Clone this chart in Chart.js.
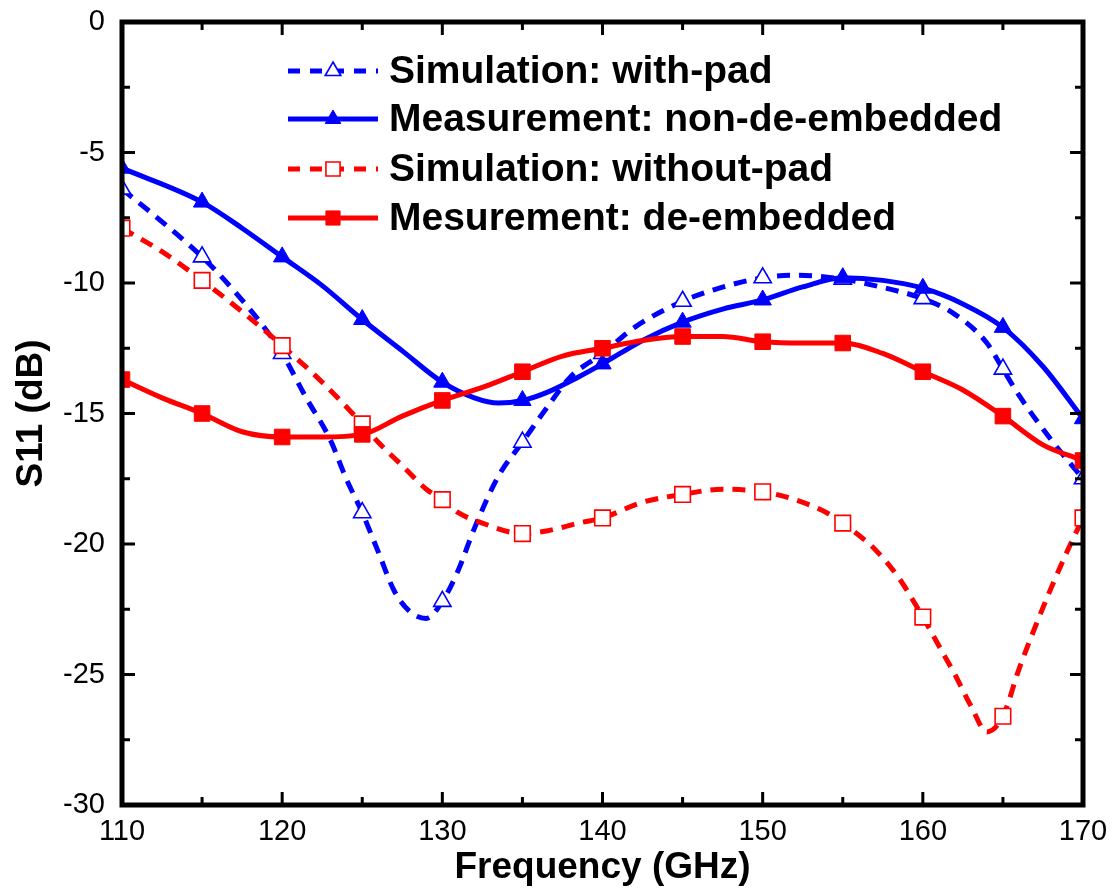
<!DOCTYPE html>
<html>
<head>
<meta charset="utf-8">
<script src="https://cdn.jsdelivr.net/npm/chart.js@4/dist/chart.umd.min.js"></script>
<style>
  html, body { margin: 0; padding: 0; background: #fff; }
  #wrap { width: 1116px; height: 892px; }
</style>
</head>
<body>
<div id="wrap"><canvas id="c" width="1116" height="892"></canvas></div>
<script>
// values (GHz / dB); markers sit on the 5 GHz points
const simPadFreq = [110, 112, 115, 117, 119, 120, 121.5, 123, 124, 125, 126, 127, 128, 129, 130, 131, 132, 133.5, 135, 136.5, 138, 140, 142, 145, 147, 150, 152, 155, 157, 160, 162, 164, 165, 166, 168, 170]
const simPadS11 = [-6.4, -7.4, -9.0, -10.3, -11.8, -12.7, -14.4, -16.0, -17.5, -18.8, -20.3, -21.8, -22.6, -22.85, -22.2, -21.0, -19.4, -17.4, -16.1, -14.8, -13.6, -12.7, -11.7, -10.7, -10.25, -9.8, -9.7, -9.85, -10.1, -10.6, -11.2, -12.3, -13.3, -14.3, -16.0, -17.5]

const measRawFreq = [110, 115, 117.5, 120, 122.5, 125, 127.5, 130, 132, 133.5, 135, 136.5, 138.5, 140, 142.5, 145, 147.5, 150, 152.5, 155, 157.5, 160, 162.5, 165, 167.5, 170]
const measRawS11 = [-5.6, -6.9, -7.9, -9.0, -10.1, -11.4, -12.6, -13.8, -14.4, -14.6, -14.5, -14.2, -13.6, -13.1, -12.2, -11.5, -11.0, -10.65, -10.15, -9.8, -9.9, -10.2, -10.8, -11.7, -13.2, -15.2]

const simNoPadFreq = [110, 112.5, 115, 117.5, 120, 122.5, 125, 126, 127.5, 129, 130, 131, 132.5, 135, 136.5, 138.5, 140, 142.5, 145, 147.5, 150, 152, 154, 155, 157, 158.5, 160, 161, 162, 163, 164, 165, 166, 167, 168, 169, 170]
const simNoPadS11 = [-7.9, -8.8, -9.9, -11.1, -12.4, -13.8, -15.4, -16.1, -17.0, -17.9, -18.3, -18.8, -19.2, -19.6, -19.5, -19.2, -19.0, -18.4, -18.1, -17.9, -18.0, -18.3, -18.8, -19.2, -20.2, -21.3, -22.8, -23.9, -25.0, -26.2, -27.2, -26.6, -24.8, -23.2, -21.7, -20.3, -19.0]

const measDeFreq = [110, 112.5, 115, 117.5, 120, 122.5, 125, 127.5, 130, 132.5, 135, 137.5, 140, 142.5, 145, 147.5, 150, 152.5, 155, 157.5, 160, 162.5, 165, 167.5, 170]
const measDeS11 = [-13.7, -14.4, -15.0, -15.7, -15.9, -15.9, -15.8, -15.1, -14.5, -14.0, -13.4, -12.8, -12.5, -12.2, -12.05, -12.05, -12.25, -12.3, -12.3, -12.7, -13.4, -14.1, -15.1, -16.2, -16.8]

const seriesNames = ['Simulation: with-pad', 'Measurement: non-de-embedded', 'Simulation: without-pad', 'Mesurement: de-embedded']

const xTicks = [110, 120, 130, 140, 150, 160, 170]
const yTicks = [-30, -25, -20, -15, -10, -5, 0]

const BLUE = '#0000ff'
const RED = '#ff0000'

function pts(fs, vs) {
  return fs.map((f, i) => ({ x: f, y: vs[i] }))
}

// only draw a marker on the 5 GHz points
const markerR = r => ctx => (ctx.raw && ctx.raw.x % 5 === 0 ? r : 0)

const styles = [
  { color: BLUE, dash: [13, 9], pointStyle: 'triangle', fill: '#fff', r: 10 },
  { color: BLUE, dash: [], pointStyle: 'triangle', fill: BLUE, r: 10 },
  { color: RED, dash: [13, 9], pointStyle: 'rect', fill: '#fff', r: 11 },
  { color: RED, dash: [], pointStyle: 'rect', fill: RED, r: 11 }
]

const allData = [
  pts(simPadFreq, simPadS11),
  pts(measRawFreq, measRawS11),
  pts(simNoPadFreq, simNoPadS11),
  pts(measDeFreq, measDeS11)
]

const datasets = allData.map((d, i) => {
  const s = styles[i]
  return {
    label: seriesNames[i],
    data: d,
    borderColor: s.color,
    borderWidth: 5,
    borderDash: s.dash,
    cubicInterpolationMode: 'monotone',
    pointStyle: s.pointStyle,
    pointRadius: markerR(s.r),
    pointHoverRadius: 0,
    pointBackgroundColor: s.fill,
    pointBorderColor: s.color,
    pointBorderWidth: s.fill === '#fff' ? 1.6 : 1,
    clip: 2
  }
}).reverse() // red solid drawn first, blue dashed on top

const tickFont = { family: "'Liberation Sans', Arial, sans-serif", size: 29 }
const titleFont = { family: "'Liberation Sans', Arial, sans-serif", size: 37, weight: 'bold', lineHeight: 1 }

// frame + inward ticks on all four sides
const framePlugin = {
  id: 'frame',
  afterDatasetsDraw(chart) {
    const { ctx, chartArea: a, scales: { x, y } } = chart
    ctx.save()
    ctx.strokeStyle = '#000'
    ctx.lineWidth = 3
    ctx.beginPath()
    for (let v = 110; v <= 170; v += 5) {
      const px = x.getPixelForValue(v)
      const len = v % 10 === 0 ? 13 : 8
      ctx.moveTo(px, a.bottom); ctx.lineTo(px, a.bottom - len)
      ctx.moveTo(px, a.top); ctx.lineTo(px, a.top + len)
    }
    for (let v = -30; v <= 0; v += 2.5) {
      const py = y.getPixelForValue(v)
      const len = v % 5 === 0 ? 13 : 8
      ctx.moveTo(a.left, py); ctx.lineTo(a.left + len, py)
      ctx.moveTo(a.right, py); ctx.lineTo(a.right - len, py)
    }
    ctx.stroke()
    ctx.lineWidth = 5
    ctx.strokeRect(a.left, a.top, a.right - a.left, a.bottom - a.top)
    ctx.restore()
  }
}

// legend drawn as line + marker + bold text, like the original
const legendPlugin = {
  id: 'lineLegend',
  afterDraw(chart) {
    const ctx = chart.ctx
    const rowsY = [71, 119, 169, 218]
    ctx.save()
    styles.forEach((s, i) => {
      const yy = rowsY[i]
      ctx.strokeStyle = s.color
      ctx.lineWidth = 5
      ctx.setLineDash(s.dash.length ? [12, 10] : [])
      ctx.beginPath()
      ctx.moveTo(288, yy); ctx.lineTo(378, yy)
      ctx.stroke()
      ctx.setLineDash([])
      ctx.fillStyle = s.fill
      ctx.lineWidth = s.fill === '#fff' ? 1.6 : 1
      Chart.helpers.drawPoint(ctx, { pointStyle: s.pointStyle, radius: s.r - 1, rotation: 0, borderWidth: ctx.lineWidth }, 333, yy)
      ctx.fillStyle = '#000'
      ctx.font = "bold 39px 'Liberation Sans', Arial, sans-serif"
      ctx.textBaseline = 'middle'
      ctx.fillText(seriesNames[i], 389, yy + 1)
    })
    ctx.restore()
  }
}

new Chart(document.getElementById('c'), {
  type: 'line',
  data: { datasets },
  options: {
    responsive: false,
    animation: false,
    events: [],
    layout: { padding: { top: 22, right: 33, left: 0, bottom: 0 } },
    plugins: { legend: { display: false }, tooltip: { enabled: false } },
    scales: {
      x: {
        type: 'linear',
        min: 110,
        max: 170,
        afterBuildTicks: s => { s.ticks = xTicks.map(v => ({ value: v })) },
        afterFit: s => { s.height = 87; s.paddingLeft = 0; s.paddingRight = 0 },
        grid: { display: false, drawTicks: false },
        border: { display: false },
        ticks: { color: '#000', font: tickFont, padding: 10, maxRotation: 0 },
        title: { display: true, text: 'Frequency (GHz)', color: '#000', font: titleFont, padding: { top: 0, bottom: 6 } }
      },
      y: {
        min: -30,
        max: 0,
        afterBuildTicks: s => { s.ticks = yTicks.map(v => ({ value: v })) },
        afterFit: s => { s.width = 122; s.paddingTop = 0; s.paddingBottom = 0 },
        grid: { display: false, drawTicks: false },
        border: { display: false },
        ticks: { color: '#000', font: tickFont, padding: 17 },
        title: { display: true, text: 'S11 (dB)', color: '#000', font: titleFont, padding: { top: 13, bottom: 0 } }
      }
    }
  },
  plugins: [framePlugin, legendPlugin]
})
</script>
</body>
</html>
